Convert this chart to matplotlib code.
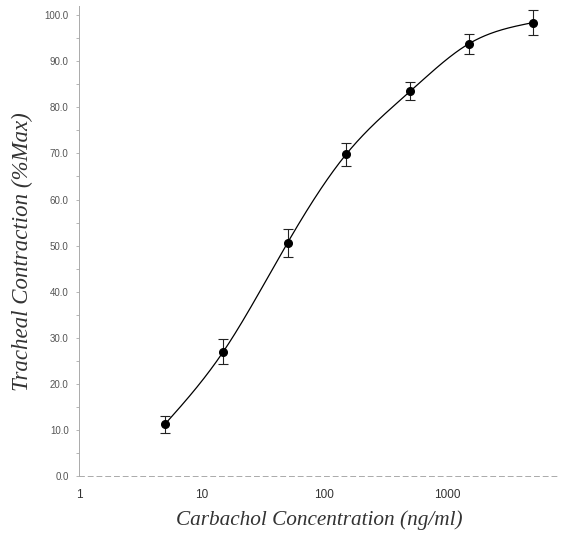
import numpy as np
import matplotlib
matplotlib.use("Agg")
import matplotlib.pyplot as plt

# carbachol dose response, mean +/- sem
conc = [5, 15, 50, 150, 500, 1500, 5000]
contraction = [11.2, 27.0, 50.6, 69.8, 83.5, 93.8, 98.4]
sem = [1.9, 2.8, 3.0, 2.5, 1.9, 2.2, 2.8]

x_ticks = [1, 10, 100, 1000]
x_ticklabels = ["1", "10", "100", "1000"]
y_ticks = [0, 10, 20, 30, 40, 50, 60, 70, 80, 90, 100]


def natural_spline(xs, ys, n=300):
    # natural cubic spline through the data points
    xs = np.asarray(xs, float)
    ys = np.asarray(ys, float)
    k = len(xs)
    h = np.diff(xs)
    A = np.zeros((k, k))
    b = np.zeros(k)
    A[0, 0] = 1
    A[-1, -1] = 1
    for i in range(1, k - 1):
        A[i, i - 1] = h[i - 1]
        A[i, i] = 2 * (h[i - 1] + h[i])
        A[i, i + 1] = h[i]
        b[i] = 6 * ((ys[i + 1] - ys[i]) / h[i] - (ys[i] - ys[i - 1]) / h[i - 1])
    M = np.linalg.solve(A, b)
    xx = np.linspace(xs[0], xs[-1], n)
    yy = np.empty_like(xx)
    for j, x in enumerate(xx):
        i = min(np.searchsorted(xs, x, side="right") - 1, k - 2)
        t0 = xs[i + 1] - x
        t1 = x - xs[i]
        yy[j] = (M[i] * t0 ** 3 + M[i + 1] * t1 ** 3) / (6 * h[i]) \
            + (ys[i] / h[i] - M[i] * h[i] / 6) * t0 \
            + (ys[i + 1] / h[i] - M[i + 1] * h[i] / 6) * t1
    return xx, yy


fig = plt.figure(figsize=(5.61, 5.35), dpi=100)
ax = fig.add_axes([79 / 561, 59 / 535, 481 / 561, 470 / 535])

lx, ly = natural_spline(np.log10(conc), contraction)
ax.plot(10 ** lx, ly, color="black", lw=0.9)
ax.errorbar(conc, contraction, yerr=sem, fmt="o", color="black", ms=5.5,
            ecolor="#222222", elinewidth=0.8, capsize=3.5, capthick=0.8,
            clip_on=False, zorder=3)

ax.set_xscale("log")
ax.set_xlim(1, 8300)
ax.set_ylim(0, 102)

ax.set_xticks(x_ticks)
ax.set_xticklabels(x_ticklabels, fontfamily="Liberation Sans", fontsize=8.5, color="#333333")
ax.xaxis.set_minor_locator(matplotlib.ticker.NullLocator())
ax.set_yticks(y_ticks)
ax.set_yticklabels(["%.1f" % v for v in y_ticks], fontfamily="Liberation Sans",
                   fontsize=7, color="#555555")
ax.set_yticks(np.arange(5, 100, 10), minor=True)

ax.tick_params(axis="x", length=0, pad=9)
ax.tick_params(axis="y", which="both", length=2.5, width=0.6, color="#aaaaaa", pad=5)

for s in ["top", "right"]:
    ax.spines[s].set_visible(False)
ax.spines["left"].set_color("#aaaaaa")
ax.spines["left"].set_linewidth(0.7)
ax.spines["bottom"].set_color("#aaaaaa")
ax.spines["bottom"].set_linewidth(0.7)
ax.spines["bottom"].set_linestyle((0, (5, 4)))

ax.set_xlabel("Carbachol Concentration (ng/ml)", fontfamily="Liberation Serif",
              style="italic", fontsize=15.3, color="#333333", labelpad=7)
ax.set_ylabel("Tracheal Contraction (%Max)", fontfamily="Liberation Serif",
              style="italic", fontsize=16.5, color="#333333")
ax.yaxis.set_label_coords(-0.096, 0.477)

fig.savefig("out.png", dpi=100)
